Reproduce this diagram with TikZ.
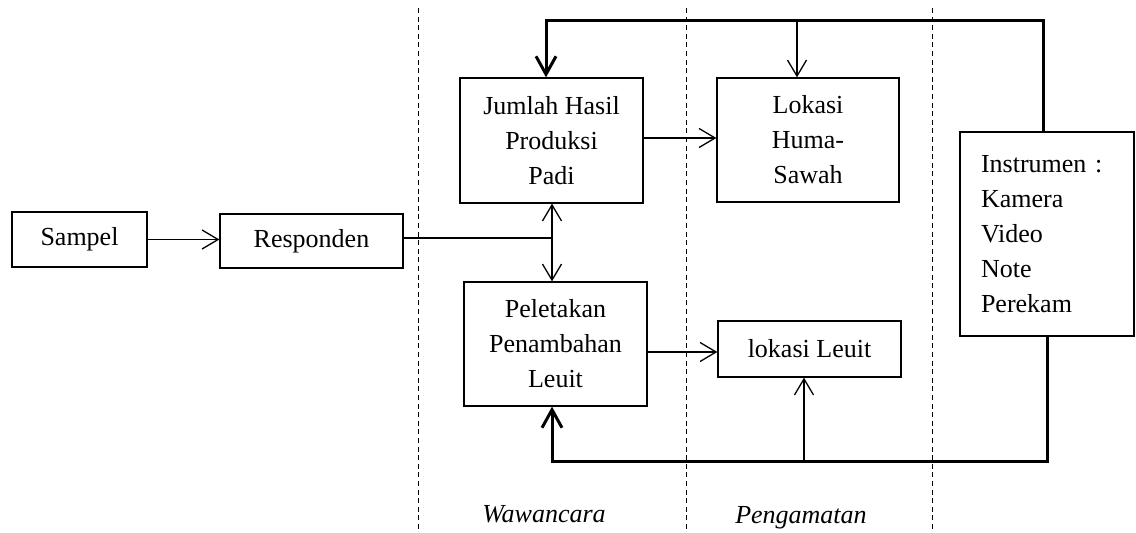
\documentclass[tikz,border=0pt]{standalone}
\usepackage{fontspec}
\setmainfont{Liberation Serif}
\usetikzlibrary{arrows.meta}
\begin{document}
\begin{tikzpicture}[x=0.5pt,y=-0.5pt,
  font=\fontsize{13pt}{17.5pt}\selectfont,
  box/.style={draw,line width=0.65pt,rectangle,inner sep=0pt,align=center},
  thinarrow/.style={line width=0.65pt,-{Straight Barb[length=8pt,width=9.5pt,line width=0.65pt]}},
  thinline/.style={line width=0.65pt},
  thickarrow/.style={line width=1.5pt,-{Straight Barb[length=9pt,width=10pt,line width=1.5pt]}},
  divider/.style={line width=0.5pt,dash pattern=on 2.5pt off 1.8pt},
  lbl/.style={font=\fontsize{13pt}{17.5pt}\selectfont\itshape}
]
\useasboundingbox (0,0) rectangle (1136,533);
% dividers
\coordinate (d1t) at (418,8); \coordinate (d1b) at (418,535);
\coordinate (d2t) at (686,8); \coordinate (d2b) at (686,535);
\coordinate (d3t) at (932,8); \coordinate (d3b) at (932,535);
\draw[divider] (d1t) -- (d1b);
\draw[divider] (d2t) -- (d2b);
\draw[divider] (d3t) -- (d3b);
% boxes
\node[box,minimum width=67.5pt,minimum height=27.5pt] (sampel) at (79.5,239.5) {Sampel};
\node[box,minimum width=91.5pt,minimum height=27pt] (resp) at (311.5,241) {Responden};
\node[box,minimum width=91.5pt,minimum height=62.5pt] (jumlah) at (551.5,140.5) {Jumlah Hasil\\Produksi\\Padi};
\node[box,minimum width=91pt,minimum height=62pt] (lokasi) at (808,140) {Lokasi\\Huma-\\Sawah};
\node[box,minimum width=91.5pt,minimum height=62pt] (pelet) at (555.5,344) {Peletakan\\Penambahan\\Leuit};
\node[box,minimum width=91.5pt,minimum height=28pt] (leuit) at (809.5,349) {lokasi Leuit};
\node[box,align=left,text width=66pt,inner xsep=10.5pt,minimum height=102pt] (instr) at (1047,234) {Instrumen :\\Kamera\\Video\\Note\\Perekam};
% connectors
\draw[thinarrow] (sampel.east) -- (resp.west |- sampel.east);
\coordinate (J) at (552,238);
\draw[thinline] (resp.east |- J) -- (J);
\draw[thinarrow] (J) -- (J |- jumlah.south);
\draw[thinarrow] (J) -- (J |- pelet.north);
\coordinate (ja) at (643,138);
\draw[thinarrow] (jumlah.east |- ja) -- (lokasi.west |- ja);
\coordinate (pa) at (647,352);
\draw[thinarrow] (pelet.east |- pa) -- (leuit.west |- pa);
% top thick loop
\coordinate (topR) at (1043,21);
\coordinate (topL) at (546,21);
\coordinate (topM) at (797,21);
\draw[thickarrow] (topR |- instr.north) -- (topR) -- (topL) -- (topL |- jumlah.north);
\draw[thinarrow] (topM) -- (topM |- lokasi.north);
% bottom thick loop
\coordinate (botR) at (1047,462);
\coordinate (botL) at (552,462);
\coordinate (botM) at (804,462);
\draw[thickarrow] (botR |- instr.south) -- (botR) -- (botL) -- (botL |- pelet.south);
\draw[thinarrow] (botM) -- (botM |- leuit.south);
% labels
\node[lbl] (wlbl) at (544,514) {Wawancara};
\node[lbl] (plbl) at (801,518) {Pengamatan};
\end{tikzpicture}
\end{document}
